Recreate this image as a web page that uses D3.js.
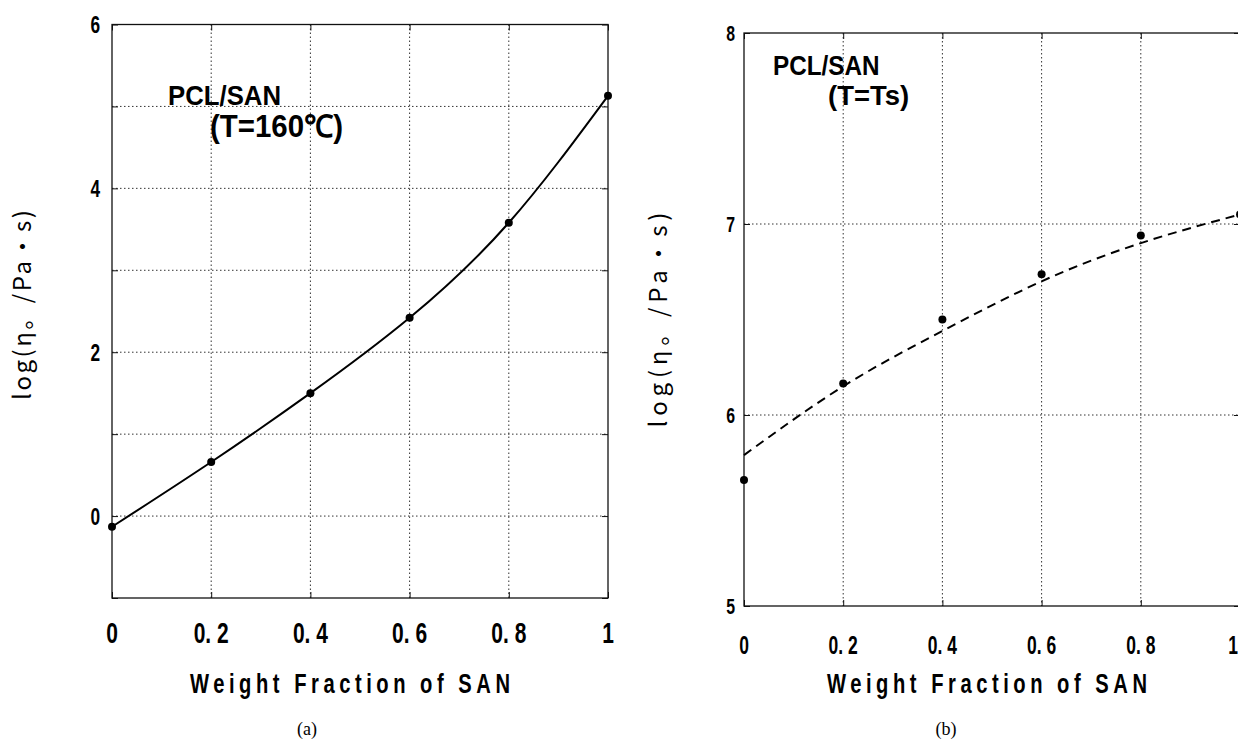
<!DOCTYPE html>
<html>
<head>
<meta charset="utf-8">
<script src="https://cdn.jsdelivr.net/npm/d3@7"></script>
<style>
  body { margin: 0; background: #fff; }
  svg { display: block; }
</style>
</head>
<body>
<svg width="1238" height="740"></svg>
<script>
// panel (a): PCL/SAN at 160 C
var fracA = [0, 0.2, 0.4, 0.6, 0.8, 1];
var viscA = [-0.13, 0.66, 1.5, 2.42, 3.58, 5.13];
var yGridA = [-1, 0, 1, 2, 3, 4, 5, 6];
var yLabelA = [0, 2, 4, 6];

// panel (b): PCL/SAN at T = Ts
var fracB = [0, 0.2, 0.4, 0.6, 0.8, 1];
var viscB = [5.66, 6.165, 6.50, 6.737, 6.94, 7.05];
var fitB = [5.79, 6.15, 6.44, 6.70, 6.90, 7.05];
var yGridB = [5, 6, 7, 8];
var yLabelB = [5, 6, 7, 8];

var xTicks = [0, 0.2, 0.4, 0.6, 0.8, 1];
var xTickLabels = ["0", "0. 2", "0. 4", "0. 6", "0. 8", "1"];

var FONT = "'Liberation Sans', Arial, sans-serif";
var svg = d3.select("svg");

// text squeezed horizontally, like the condensed gothic of the original
var narrow = function(g, x, y, size, sx, txt, anchor, bold){
  return g.append("text")
    .attr("transform", "translate(" + x + "," + y + ") scale(" + sx + ",1)")
    .attr("font-family", FONT)
    .attr("font-size", size)
    .attr("font-weight", bold ? "bold" : "normal")
    .attr("text-anchor", anchor || "start")
    .attr("fill", "#000")
    .attr("xml:space", "preserve")
    .style("white-space", "pre")
    .text(txt);
};

var drawPanel = function(p){
  var x = d3.scaleLinear().domain([0, 1]).range([p.left, p.right]);
  var y = d3.scaleLinear().domain(p.yDomain).range([p.bottom, p.top]);
  var g = svg.append("g");

  // dotted grid
  g.selectAll(".gx").data(xTicks.slice(1, -1)).enter().append("line")
    .attr("x1", d => x(d)).attr("x2", d => x(d))
    .attr("y1", p.top).attr("y2", p.bottom)
    .attr("stroke", "#333").attr("stroke-width", 1).attr("stroke-dasharray", "1.5,2.5");
  g.selectAll(".gy").data(p.yGrid.slice(1, -1)).enter().append("line")
    .attr("x1", p.left).attr("x2", p.right)
    .attr("y1", d => y(d)).attr("y2", d => y(d))
    .attr("stroke", "#333").attr("stroke-width", 1).attr("stroke-dasharray", "1.5,2.5");

  // inward ticks on the frame
  var ax = g.append("g").attr("transform", "translate(0," + p.bottom + ")")
    .call(d3.axisTop(x).tickValues(xTicks).tickSize(6).tickFormat(""));
  var ax2 = g.append("g").attr("transform", "translate(0," + p.top + ")")
    .call(d3.axisBottom(x).tickValues(xTicks).tickSize(6).tickFormat(""));
  var ay = g.append("g").attr("transform", "translate(" + p.left + ",0)")
    .call(d3.axisRight(y).tickValues(p.yGrid).tickSize(6).tickFormat(""));
  var ay2 = g.append("g").attr("transform", "translate(" + p.right + ",0)")
    .call(d3.axisLeft(y).tickValues(p.yGrid).tickSize(6).tickFormat(""));
  [ax, ax2, ay, ay2].forEach(function(a){
    a.select(".domain").remove();
    a.selectAll("line").attr("stroke", "#111");
  });

  g.append("rect")
    .attr("x", p.left).attr("y", p.top)
    .attr("width", p.right - p.left).attr("height", p.bottom - p.top)
    .attr("fill", "none").attr("stroke", "#111").attr("stroke-width", 1.3);

  // tick labels
  xTicks.forEach(function(d, i){
    var px = x(d), anchor = "middle";
    if (px > 1230) { px = 1238; anchor = "end"; }
    narrow(g, px, p.xLabelY, p.xTickSize, 0.7, xTickLabels[i], anchor, true);
  });
  p.yLabels.forEach(function(d){
    narrow(g, p.left - p.yLabelGap, y(d) + p.yTickSize * 0.36, p.yTickSize, 0.72, d, "end", true);
  });

  // axis titles
  narrow(g, p.xTitleX, 693, 28, 0.72, "Weight Fraction of SAN", "middle", true)
    .attr("textLength", 320 / 0.72).attr("lengthAdjust", "spacing");
  g.append("text")
    .attr("transform", "translate(" + p.yTitleX + "," + p.yTitleY + ") rotate(-90)")
    .attr("text-anchor", "middle").attr("font-size", 24)
    .attr("font-family", "'Noto Sans CJK JP', 'Noto Sans', sans-serif")
    .attr("textLength", p.yTitleLen).attr("lengthAdjust", "spacing")
    .text("log(η。/Pa・s)");

  // in-plot label
  p.note.forEach(function(n){
    narrow(g, n.x, n.y, n.size, n.sx, n.text, "start", true);
  });

  // caption
  g.append("text")
    .attr("x", p.capX).attr("y", 735)
    .attr("text-anchor", "middle").attr("font-size", 18)
    .attr("font-family", "'Liberation Serif', serif")
    .text(p.caption);

  return {x: x, y: y, g: g};
};

// ---- (a)
var a = drawPanel({
  left: 112, right: 608, top: 24.5, bottom: 598,
  yDomain: [-1, 6], yGrid: yGridA, yLabels: yLabelA,
  xLabelY: 643, xTickSize: 30, yTickSize: 24, yLabelGap: 12,
  xTitleX: 350, yTitleX: 31, yTitleY: 305, yTitleLen: 190,
  note: [{x: 168, y: 105, size: 28, sx: 0.92, text: "PCL/SAN"},
         {x: 210, y: 137, size: 31, sx: 0.95, text: "(T=160℃)"}],
  capX: 307, caption: "(a)"
});

var lineA = d3.line()
  .x((d, i) => a.x(fracA[i]))
  .y(d => a.y(d))
  .curve(d3.curveNatural);
a.g.append("path").datum(viscA)
  .attr("d", lineA).attr("fill", "none")
  .attr("stroke", "#000").attr("stroke-width", 2);
a.g.selectAll(".pt").data(viscA).enter().append("circle")
  .attr("cx", (d, i) => a.x(fracA[i])).attr("cy", d => a.y(d))
  .attr("r", 4).attr("fill", "#000");

// ---- (b)
var b = drawPanel({
  left: 744, right: 1240, top: 33, bottom: 606,
  yDomain: [5, 8], yGrid: yGridB, yLabels: yLabelB,
  xLabelY: 654, xTickSize: 25, yTickSize: 22, yLabelGap: 9,
  xTitleX: 987, yTitleX: 667, yTitleY: 320, yTitleLen: 215,
  note: [{x: 773, y: 75, size: 27, sx: 0.9, text: "PCL/SAN"},
         {x: 828, y: 105, size: 28, sx: 0.98, text: "(T=Ts)"}],
  capX: 946, caption: "(b)"
});

var lineB = d3.line()
  .x((d, i) => b.x(fracB[i]))
  .y(d => b.y(d))
  .curve(d3.curveNatural);
b.g.append("path").datum(fitB)
  .attr("d", lineB).attr("fill", "none")
  .attr("stroke", "#000").attr("stroke-width", 2)
  .attr("stroke-dasharray", "9,6");
b.g.selectAll(".pt").data(viscB).enter().append("circle")
  .attr("cx", (d, i) => b.x(fracB[i])).attr("cy", d => b.y(d))
  .attr("r", 4).attr("fill", "#000");
</script>
</body>
</html>
